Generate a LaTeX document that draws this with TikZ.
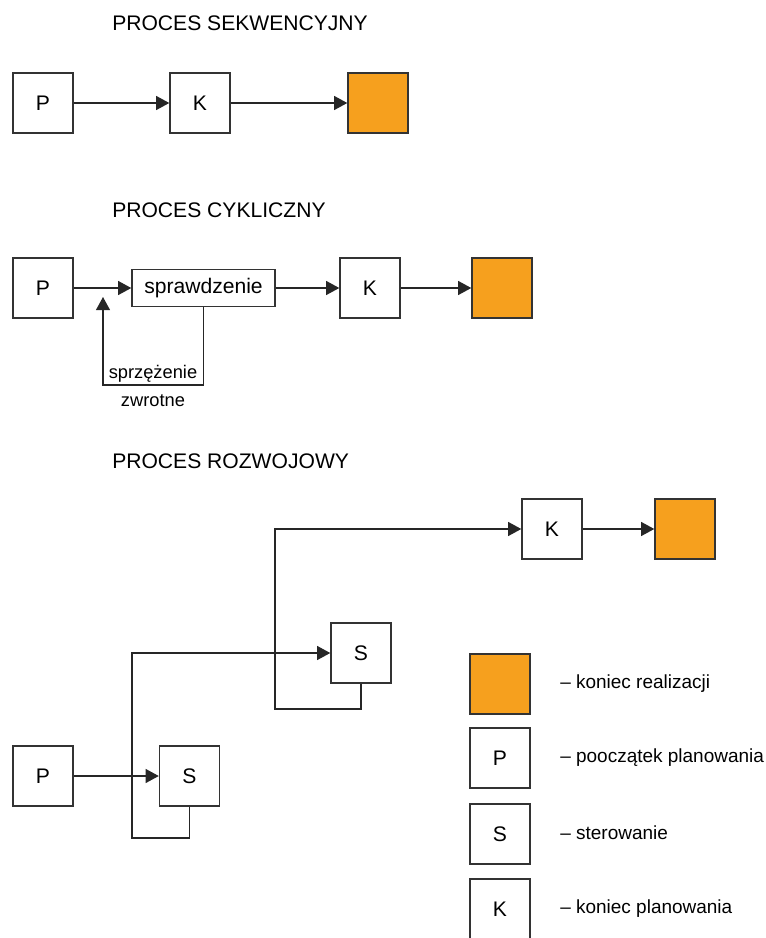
\documentclass[tikz,border=0pt]{standalone}
\usepackage{fontspec}
\setmainfont{Liberation Sans}
\usetikzlibrary{arrows.meta}
\definecolor{endorange}{RGB}{246,160,30}
\tikzset{
  box/.style={rectangle, draw=black!80, line width=1pt, minimum width=1.5cm, minimum height=1.5cm, inner sep=0pt, font=\fontsize{15}{18}\selectfont},
  donebox/.style={box, fill=endorange},
  title/.style={anchor=west, inner sep=0pt, font=\fontsize{15}{18}\selectfont},
  legendtext/.style={anchor=west, inner sep=0pt, font=\fontsize{13.5}{16}\selectfont},
  link/.style={line width=1pt, draw=black!85},
  arr/.style={link, -{Triangle[length=3.3mm, width=3.5mm]}}
}

\begin{document}
\begin{tikzpicture}[x=0.025cm, y=-0.025cm]
         \useasboundingbox (0,0) rectangle (766,938);

         % sequential process
         \node [title] (titleseq) at (112,23) {PROCES SEKWENCYJNY};
         \node [box]     (seqP)   at (43,103)  {P};
         \node [box]     (seqK)   at (200,103) {K};
         \node [donebox] (seqEnd) at (378,103) {};

         \draw [arr] (seqP) -- (seqK);
         \draw [arr] (seqK) -- (seqEnd);

         % cyclic process
         \node [title] (titlecyc) at (112,210) {PROCES CYKLICZNY};
         \node [box]     (cycP)   at (43,288)  {P};
         \node [box, minimum width=3.575cm, minimum height=0.925cm] (check) at (203.5,288) {sprawdzenie};
         \node [box]     (cycK)   at (370,288) {K};
         \node [donebox] (cycEnd) at (502,288) {};

         \coordinate (loopcorner) at (103,385);
         \coordinate (looptip)    at (103,297);

         \draw [arr] (cycP) -- (check);
         \draw [arr] (check) -- (cycK);
         \draw [arr] (cycK) -- (cycEnd);
         \draw [arr] (check.south) |- (loopcorner) -- (looptip);
         \node [align=center, inner sep=0pt, font=\fontsize{13}{20}\selectfont] (feedback) at (153,386) {sprzężenie\\zwrotne};

         % developmental process
         \node [title] (titledev) at (112,461) {PROCES ROZWOJOWY};
         \node [box]     (devP)   at (43,776)   {P};
         \node [box]     (devS1)  at (189.5,776) {S};
         \node [box]     (devS2)  at (361,653)  {S};
         \node [box]     (devK)   at (552,529)  {K};
         \node [donebox] (devEnd) at (685,529)  {};

         \coordinate (stepone) at (132,838);
         \coordinate (steptwo) at (275,709);

         \draw [arr] (devP) -- (devS1);
         \draw [arr] (devS1.south) |- (stepone) |- (devS2.west);
         \draw [arr] (devS2.south) |- (steptwo) |- (devK.west);
         \draw [arr] (devK) -- (devEnd);

         % legend
         \node [donebox] (keyEnd) at (500,684) {};
         \node [box]     (keyP)   at (500,758) {P};
         \node [box]     (keyS)   at (500,834) {S};
         \node [box]     (keyK)   at (500,909) {K};

         \node [legendtext] (keyEndtext) at (560,684) {– koniec realizacji};
         \node [legendtext] (keyPtext)   at (560,758) {– pooczątek planowania};
         \node [legendtext] (keyStext)   at (560,833) {– sterowanie};
         \node [legendtext] (keyKtext)   at (560,909) {– koniec planowania};

\end{tikzpicture}
\end{document}
